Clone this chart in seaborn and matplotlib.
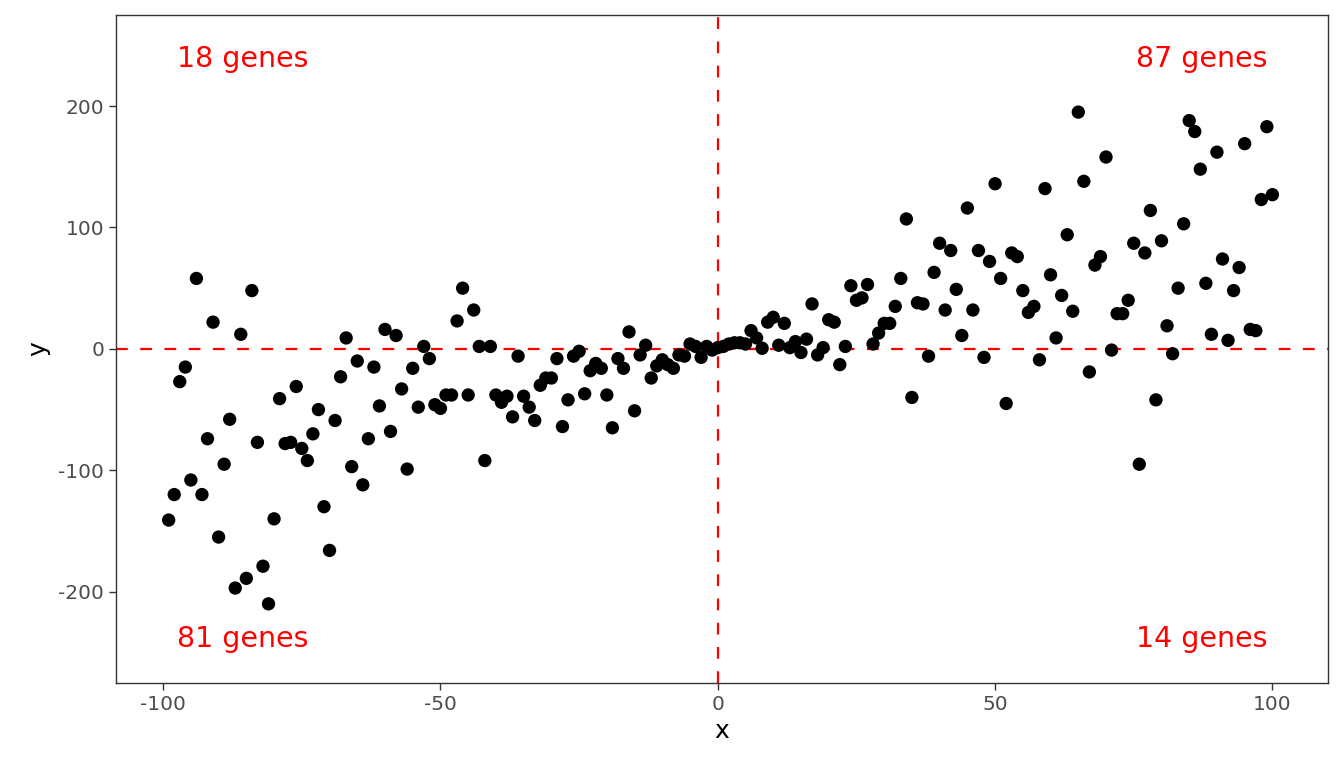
import numpy as np
import pandas as pd
import matplotlib
matplotlib.use("Agg")
import matplotlib.pyplot as plt
import seaborn as sns

# ── Data ──────────────────────────────────────────────────────────────────────

x_vals = list(range(-99, 101))

y_vals = [
    # -99 .. -80
    -141, -120, -27, -15, -108, 58, -120, -74, 22, -155,
    -95, -58, -197, 12, -189, 48, -77, -179, -210, -140,
    # -79 .. -60
    -41, -78, -77, -31, -82, -92, -70, -50, -130, -166,
    -59, -23, 9, -97, -10, -112, -74, -15, -47, 16,
    # -59 .. -40
    -68, 11, -33, -99, -16, -48, 2, -8, -46, -49,
    -38, -38, 23, 50, -38, 32, 2, -92, 2, -38,
    # -39 .. -20
    -44, -39, -56, -6, -39, -48, -59, -30, -24, -24,
    -8, -64, -42, -6, -2, -37, -18, -12, -16, -38,
    # -19 .. 0
    -65, -8, -16, 14, -51, -5, 3, -24, -14, -9,
    -13, -16, -5, -6, 4, 2, -7, 2, -1, 1,
    # 1 .. 20
    2, 4, 5, 5, 4, 15, 9, 0.5, 22, 26,
    3, 21, 1, 6, -3, 8, 37, -5, 1, 24,
    # 21 .. 40
    22, -13, 2, 52, 40, 42, 53, 4, 13, 21,
    21, 35, 58, 107, -40, 38, 37, -6, 63, 87,
    # 41 .. 60
    32, 81, 49, 11, 116, 32, 81, -7, 72, 136,
    58, -45, 79, 76, 48, 30, 35, -9, 132, 61,
    # 61 .. 80
    9, 44, 94, 31, 195, 138, -19, 69, 76, 158,
    -1, 29, 29, 40, 87, -95, 79, 114, -42, 89,
    # 81 .. 100
    19, -4, 50, 103, 188, 179, 148, 54, 12, 162,
    74, 7, 48, 67, 169, 16, 15, 123, 183, 127,
]

quadrant_labels = ["18 genes", "87 genes", "81 genes", "14 genes"]

df = pd.DataFrame({"x": x_vals, "y": y_vals})

# ── Plot ──────────────────────────────────────────────────────────────────────

sns.set_style("white")
plt.rcParams["font.family"] = ["DejaVu Sans"]
plt.rcParams["axes.unicode_minus"] = False

fig = plt.figure(figsize=(13.44, 7.68), dpi=100)
ax = fig.add_axes([0.0863, 0.111, 0.9017, 0.8695])

sns.scatterplot(data=df, x="x", y="y", color="black", s=92,
                edgecolor="none", ax=ax, zorder=3)

dash = (0, (5.3, 5.6))
ax.axhline(0, color="red", lw=1.6, linestyle=dash, zorder=2)
ax.axvline(0, color="red", lw=1.6, linestyle=dash, zorder=2)

ax.text(-97.5, 239, quadrant_labels[0], color="red", fontsize=20.5,
        ha="left", va="center")
ax.text(99.2, 239, quadrant_labels[1], color="red", fontsize=20.5,
        ha="right", va="center")
ax.text(-97.5, -239, quadrant_labels[2], color="red", fontsize=20.5,
        ha="left", va="center")
ax.text(99.2, -239, quadrant_labels[3], color="red", fontsize=20.5,
        ha="right", va="center")

ax.set_xlim(-108.5, 110)
ax.set_ylim(-275, 275)
ax.set_xticks([-100, -50, 0, 50, 100])
ax.set_yticks([-200, -100, 0, 100, 200])
ax.tick_params(axis="both", labelsize=14.5, labelcolor="#4D4D4D",
               color="#333333", length=5, width=1, direction="out",
               left=True, bottom=True)
ax.set_xlabel("x", fontsize=18, color="black", labelpad=4)
ax.set_ylabel("y", fontsize=18, color="black", labelpad=6)
ax.grid(False)
for sp in ax.spines.values():
    sp.set_color("#333333")
    sp.set_linewidth(1)

fig.savefig("out.png", dpi=100)
plt.close(fig)
